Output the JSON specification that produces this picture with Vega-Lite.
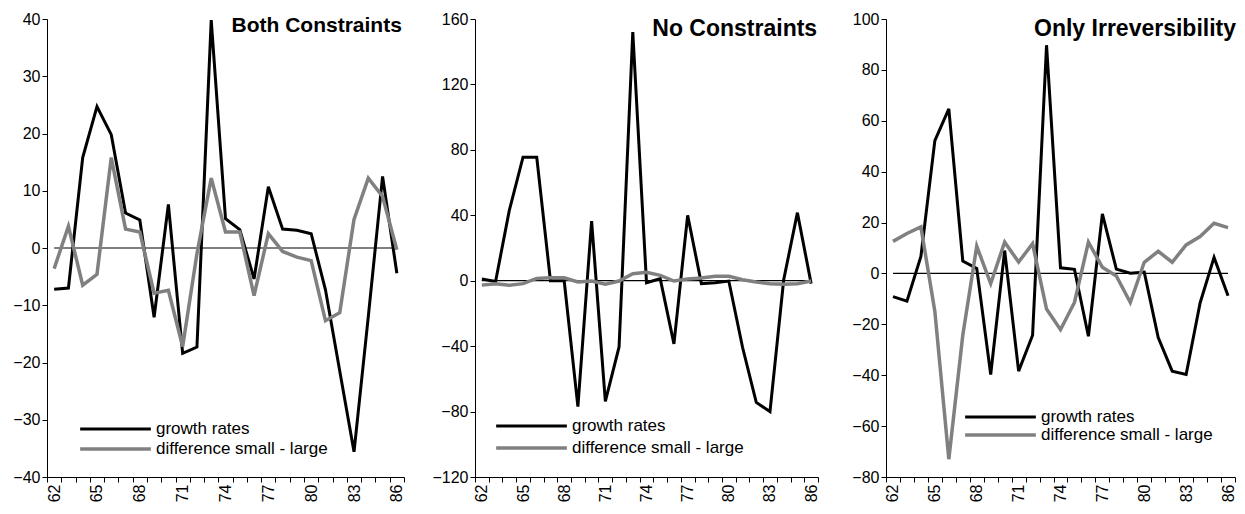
{
"$schema": "https://vega.github.io/schema/vega-lite/v6.json",
"autosize": {"type": "pad"},
"padding": {"left": 7, "top": 11, "right": 0, "bottom": 0},
"background": "white",
"datasets": {
"p1": [
{"year":62,"growth rates":-7.2,"difference small - large":-3.6},
{"year":63,"growth rates":-7.0,"difference small - large":3.8},
{"year":64,"growth rates":15.8,"difference small - large":-6.5},
{"year":65,"growth rates":24.7,"difference small - large":-4.6},
{"year":66,"growth rates":19.8,"difference small - large":15.8},
{"year":67,"growth rates":6.1,"difference small - large":3.3},
{"year":68,"growth rates":4.9,"difference small - large":2.8},
{"year":69,"growth rates":-12.1,"difference small - large":-7.9},
{"year":70,"growth rates":7.6,"difference small - large":-7.4},
{"year":71,"growth rates":-18.4,"difference small - large":-17.2},
{"year":72,"growth rates":-17.3,"difference small - large":-1.0},
{"year":73,"growth rates":39.8,"difference small - large":12.2},
{"year":74,"growth rates":5.1,"difference small - large":2.8},
{"year":75,"growth rates":3.2,"difference small - large":2.8},
{"year":76,"growth rates":-5.4,"difference small - large":-8.3},
{"year":77,"growth rates":10.7,"difference small - large":2.5},
{"year":78,"growth rates":3.3,"difference small - large":-0.6},
{"year":79,"growth rates":3.1,"difference small - large":-1.6},
{"year":80,"growth rates":2.5,"difference small - large":-2.2},
{"year":81,"growth rates":-7.3,"difference small - large":-12.7},
{"year":82,"growth rates":-21.5,"difference small - large":-11.3},
{"year":83,"growth rates":-35.6,"difference small - large":5.0},
{"year":84,"growth rates":-12.0,"difference small - large":12.2},
{"year":85,"growth rates":12.5,"difference small - large":9.0},
{"year":86,"growth rates":-4.4,"difference small - large":-0.3}
],
"p2": [
{"year":62,"growth rates":1.0,"difference small - large":-2.7},
{"year":63,"growth rates":-0.5,"difference small - large":-1.8},
{"year":64,"growth rates":43.0,"difference small - large":-2.7},
{"year":65,"growth rates":75.5,"difference small - large":-1.8},
{"year":66,"growth rates":75.5,"difference small - large":1.4},
{"year":67,"growth rates":0.0,"difference small - large":1.8},
{"year":68,"growth rates":0.0,"difference small - large":1.8},
{"year":69,"growth rates":-77.0,"difference small - large":-0.8},
{"year":70,"growth rates":36.5,"difference small - large":-0.2},
{"year":71,"growth rates":-73.8,"difference small - large":-2.2},
{"year":72,"growth rates":-40.5,"difference small - large":-0.2},
{"year":73,"growth rates":152.0,"difference small - large":4.3},
{"year":74,"growth rates":-1.2,"difference small - large":5.1},
{"year":75,"growth rates":1.2,"difference small - large":3.3},
{"year":76,"growth rates":-38.6,"difference small - large":-0.2},
{"year":77,"growth rates":40.0,"difference small - large":1.0},
{"year":78,"growth rates":-1.8,"difference small - large":1.6},
{"year":79,"growth rates":-1.2,"difference small - large":2.7},
{"year":80,"growth rates":-0.2,"difference small - large":2.7},
{"year":81,"growth rates":-40.7,"difference small - large":0.6},
{"year":82,"growth rates":-74.4,"difference small - large":-0.8},
{"year":83,"growth rates":-80.0,"difference small - large":-1.8},
{"year":84,"growth rates":0.6,"difference small - large":-2.2},
{"year":85,"growth rates":41.6,"difference small - large":-1.8},
{"year":86,"growth rates":-1.8,"difference small - large":-0.2}
],
"p3": [
{"year":62,"growth rates":-9.1,"difference small - large":12.6},
{"year":63,"growth rates":-10.9,"difference small - large":15.7},
{"year":64,"growth rates":6.7,"difference small - large":18.3},
{"year":65,"growth rates":52.2,"difference small - large":-14.9},
{"year":66,"growth rates":64.7,"difference small - large":-73.0},
{"year":67,"growth rates":4.9,"difference small - large":-24.3},
{"year":68,"growth rates":2.0,"difference small - large":10.7},
{"year":69,"growth rates":-39.7,"difference small - large":-4.0},
{"year":70,"growth rates":9.0,"difference small - large":12.3},
{"year":71,"growth rates":-38.4,"difference small - large":4.5},
{"year":72,"growth rates":-24.3,"difference small - large":11.7},
{"year":73,"growth rates":89.7,"difference small - large":-14.0},
{"year":74,"growth rates":2.2,"difference small - large":-22.1},
{"year":75,"growth rates":1.6,"difference small - large":-11.4},
{"year":76,"growth rates":-24.7,"difference small - large":12.3},
{"year":77,"growth rates":23.4,"difference small - large":2.4},
{"year":78,"growth rates":1.7,"difference small - large":-1.0},
{"year":79,"growth rates":0.1,"difference small - large":-11.4},
{"year":80,"growth rates":0.5,"difference small - large":4.4},
{"year":81,"growth rates":-25.2,"difference small - large":8.7},
{"year":82,"growth rates":-38.4,"difference small - large":4.4},
{"year":83,"growth rates":-39.7,"difference small - large":11.2},
{"year":84,"growth rates":-11.6,"difference small - large":14.5},
{"year":85,"growth rates":6.3,"difference small - large":19.7},
{"year":86,"growth rates":-8.8,"difference small - large":18.0}
]
},
"spacing": 26,
"resolve": {"scale": {"color": "independent", "y": "independent", "strokeWidth": "independent"}, "legend": {"color": "independent"}},
"hconcat": [
{
"width": 357, "height": 458,
"layer": [
{"data": {"values": [{}]}, "mark": {"type": "rule", "color": "black", "strokeWidth": 1.2},
 "encoding": {"x": {"datum": 62, "type": "ordinal", "bandPosition": 0.5}, "x2": {"datum": 86, "bandPosition": 0.5}, "y": {"datum": 0, "type": "quantitative"}}},
{"data": {"name": "p1"},
 "transform": [{"fold": ["growth rates", "difference small - large"], "as": ["series", "value"]}],
 "mark": {"type": "line", "strokeJoin": "miter"},
 "encoding": {
  "x": {"field": "year", "type": "ordinal", "bandPosition": 0.5,
        "scale": {"type": "band", "domain": [62,63,64,65,66,67,68,69,70,71,72,73,74,75,76,77,78,79,80,81,82,83,84,85,86], "paddingInner": 0, "paddingOuter": 0},
        "axis": {"title": null, "tickBand": "extent", "labelAngle": 270, "labelExpr": "(datum.value - 62) % 3 === 0 ? datum.label : ''"}},
  "y": {"field": "value", "type": "quantitative", "scale": {"domain": [-40, 40], "nice": false, "zero": false},
        "axis": {"title": null, "values": [-40,-30,-20,-10,0,10,20,30,40], "minExtent": 40, "maxExtent": 40}},
  "strokeWidth": {"field": "series", "type": "nominal", "scale": {"domain": ["growth rates", "difference small - large"], "range": [3, 3.5]}, "legend": null},
  "color": {"field": "series", "type": "nominal", "sort": null,
        "scale": {"domain": ["growth rates", "difference small - large"], "range": ["#000000", "#808080"]},
        "legend": {"orient": "none", "legendX": 31, "legendY": 400, "title": null, "symbolType": "stroke", "symbolSize": 5000, "symbolStrokeWidth": 3.5, "clipHeight": 20, "rowPadding": 0, "labelFontSize": 17, "labelOffset": 3, "labelLimit": 400, "labelColor": "black"}}
 }},
{"data": {"values": [{}]}, "mark": {"type": "text", "text": "Both Constraints", "fontSize": 21, "fontWeight": "bold", "align": "right", "baseline": "alphabetic", "dx": 5, "dy": 13, "color": "black"},
 "encoding": {"x": {"datum": 86, "type": "ordinal"}, "y": {"datum": 40, "type": "quantitative"}}}
]
},
{
"width": 343, "height": 458,
"layer": [
{"data": {"values": [{}]}, "mark": {"type": "rule", "color": "black", "strokeWidth": 1.2},
 "encoding": {"x": {"datum": 62, "type": "ordinal", "bandPosition": 0.5}, "x2": {"datum": 86, "bandPosition": 0.5}, "y": {"datum": 0, "type": "quantitative"}}},
{"data": {"name": "p2"},
 "transform": [{"fold": ["growth rates", "difference small - large"], "as": ["series", "value"]}],
 "mark": {"type": "line", "strokeJoin": "miter"},
 "encoding": {
  "x": {"field": "year", "type": "ordinal", "bandPosition": 0.5,
        "scale": {"type": "band", "domain": [62,63,64,65,66,67,68,69,70,71,72,73,74,75,76,77,78,79,80,81,82,83,84,85,86], "paddingInner": 0, "paddingOuter": 0},
        "axis": {"title": null, "tickBand": "extent", "labelAngle": 270, "labelExpr": "(datum.value - 62) % 3 === 0 ? datum.label : ''"}},
  "y": {"field": "value", "type": "quantitative", "scale": {"domain": [-120, 160], "nice": false, "zero": false},
        "axis": {"title": null, "values": [-120,-80,-40,0,40,80,120,160], "minExtent": 40, "maxExtent": 40}},
  "strokeWidth": {"field": "series", "type": "nominal", "scale": {"domain": ["growth rates", "difference small - large"], "range": [3, 3.5]}, "legend": null},
  "color": {"field": "series", "type": "nominal", "sort": null,
        "scale": {"domain": ["growth rates", "difference small - large"], "range": ["#000000", "#808080"]},
        "legend": {"orient": "none", "legendX": 19, "legendY": 396, "title": null, "symbolType": "stroke", "symbolSize": 5000, "symbolStrokeWidth": 3.5, "clipHeight": 22, "rowPadding": 0, "labelFontSize": 17, "labelOffset": 3, "labelLimit": 400, "labelColor": "black"}}
 }},
{"data": {"values": [{}]}, "mark": {"type": "text", "text": "No Constraints", "fontSize": 23, "fontWeight": "bold", "align": "right", "baseline": "alphabetic", "dx": 6, "dy": 17, "color": "black"},
 "encoding": {"x": {"datum": 86, "type": "ordinal"}, "y": {"datum": 160, "type": "quantitative"}}}
]
},
{
"width": 349, "height": 458,
"layer": [
{"data": {"values": [{}]}, "mark": {"type": "rule", "color": "black", "strokeWidth": 1.2},
 "encoding": {"x": {"datum": 62, "type": "ordinal", "bandPosition": 0.5}, "x2": {"datum": 86, "bandPosition": 0.5}, "y": {"datum": 0, "type": "quantitative"}}},
{"data": {"name": "p3"},
 "transform": [{"fold": ["growth rates", "difference small - large"], "as": ["series", "value"]}],
 "mark": {"type": "line", "strokeJoin": "miter"},
 "encoding": {
  "x": {"field": "year", "type": "ordinal", "bandPosition": 0.5,
        "scale": {"type": "band", "domain": [62,63,64,65,66,67,68,69,70,71,72,73,74,75,76,77,78,79,80,81,82,83,84,85,86], "paddingInner": 0, "paddingOuter": 0},
        "axis": {"title": null, "tickBand": "extent", "labelAngle": 270, "labelExpr": "(datum.value - 62) % 3 === 0 ? datum.label : ''"}},
  "y": {"field": "value", "type": "quantitative", "scale": {"domain": [-80, 100], "nice": false, "zero": false},
        "axis": {"title": null, "values": [-80,-60,-40,-20,0,20,40,60,80,100], "minExtent": 40, "maxExtent": 40}},
  "strokeWidth": {"field": "series", "type": "nominal", "scale": {"domain": ["growth rates", "difference small - large"], "range": [3, 3.5]}, "legend": null},
  "color": {"field": "series", "type": "nominal", "sort": null,
        "scale": {"domain": ["growth rates", "difference small - large"], "range": ["#000000", "#808080"]},
        "legend": {"orient": "none", "legendX": 77, "legendY": 389, "title": null, "symbolType": "stroke", "symbolSize": 5000, "symbolStrokeWidth": 3.5, "clipHeight": 18, "rowPadding": 0, "labelFontSize": 17, "labelOffset": 3, "labelLimit": 400, "labelColor": "black"}}
 }},
{"data": {"values": [{}]}, "mark": {"type": "text", "text": "Only Irreversibility", "fontSize": 23, "fontWeight": "bold", "align": "right", "baseline": "alphabetic", "dx": 8, "dy": 17, "color": "black"},
 "encoding": {"x": {"datum": 86, "type": "ordinal"}, "y": {"datum": 100, "type": "quantitative"}}}
]
}
],
"config": {
 "view": {"stroke": null},
 "font": "Liberation Sans",
 "text": {"font": "Liberation Sans"},
 "legend": {"labelFont": "Liberation Sans"},
 "axis": {"grid": false, "domainColor": "black", "tickColor": "black", "labelColor": "black", "labelFont": "Liberation Sans", "labelFontSize": 16, "tickSize": 5, "domainWidth": 1, "tickWidth": 1, "labelPadding": 2}
}
}
